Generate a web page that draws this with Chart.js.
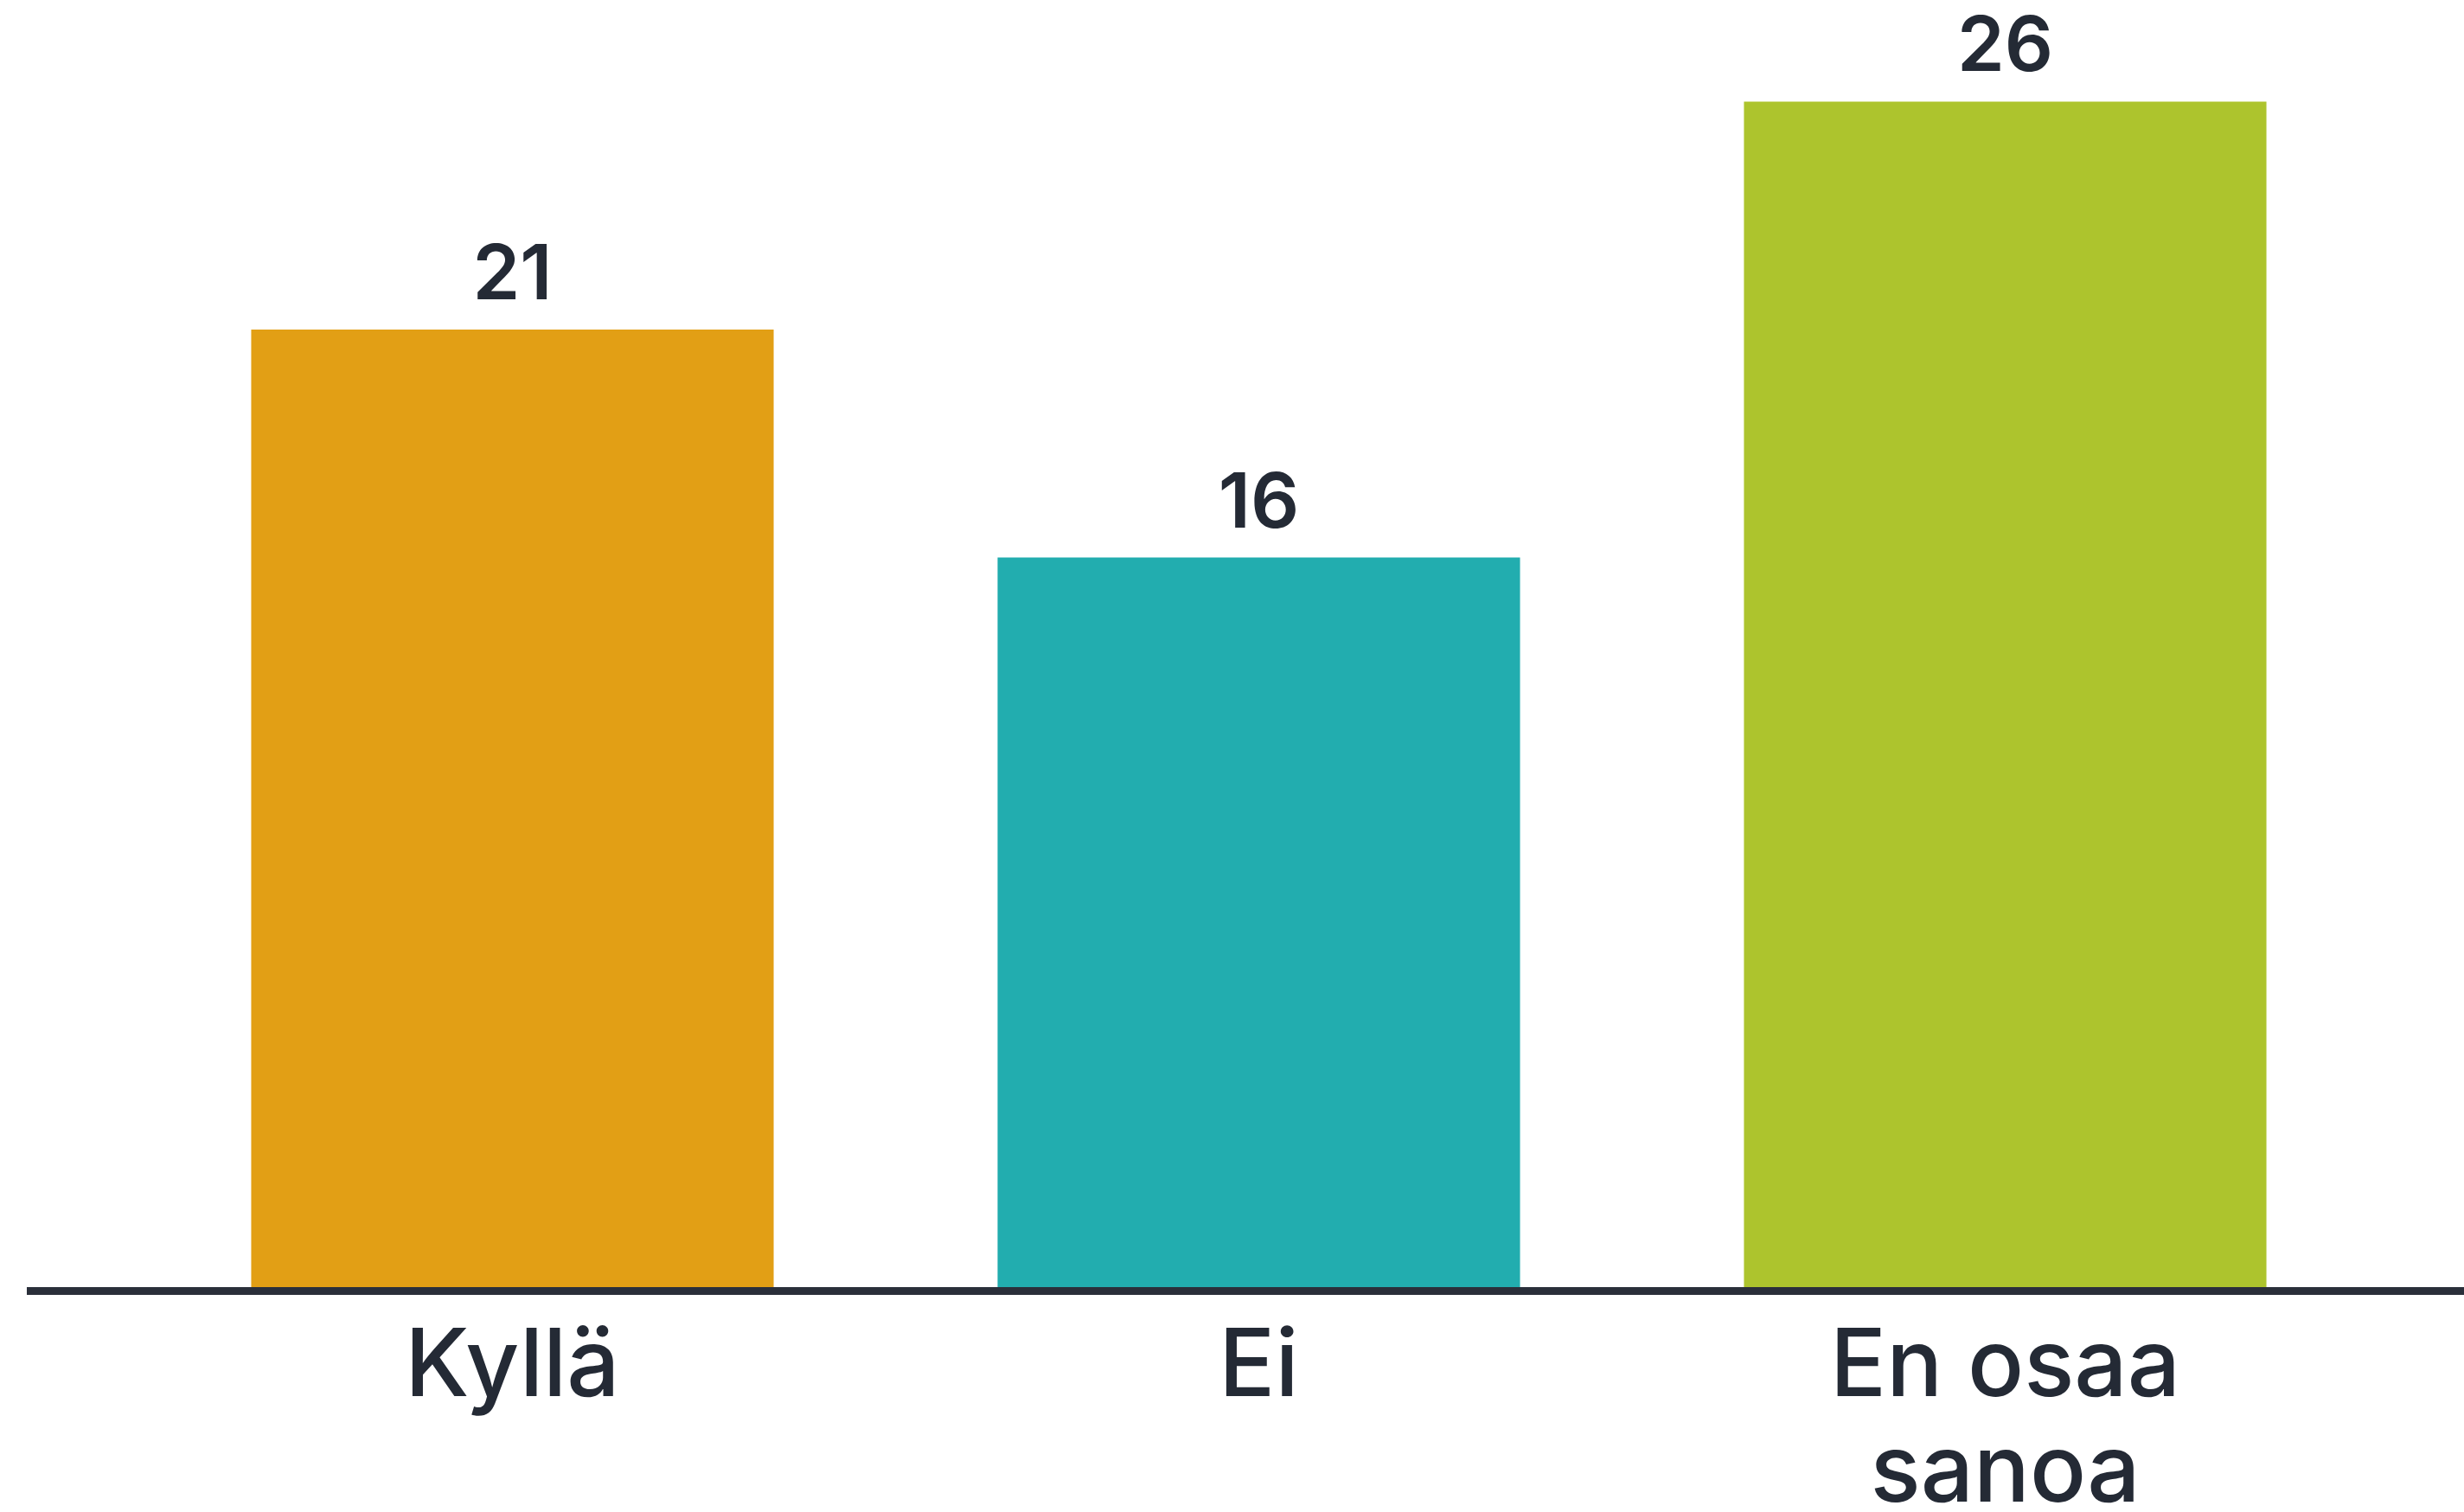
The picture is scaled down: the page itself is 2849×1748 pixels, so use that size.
<!DOCTYPE html>
<html>
<head>
<meta charset="utf-8">
<script src="https://cdn.jsdelivr.net/npm/chart.js@4"></script>
<style>
  html, body { margin: 0; padding: 0; background: #ffffff; }
  #wrap { width: 2849px; height: 1748px; position: relative; }
</style>
</head>
<body>
<div id="wrap"><canvas id="c"></canvas></div>
<script>
const categories = ['Kyllä', 'Ei', ['En osaa', 'sanoa']];
const values = [21, 16, 26];
const barColors = ['#E29F15', '#22ADAF', '#ADC42D'];
const textColor = '#242a35';
const fontFamily = 'Inter, Lato, "Noto Sans", sans-serif';

const valueLabels = {
  id: 'valueLabels',
  afterDatasetsDraw(chart) {
    const ctx = chart.ctx;
    const meta = chart.getDatasetMeta(0);
    ctx.save();
    ctx.fillStyle = textColor;
    ctx.font = '600 88px ' + fontFamily;
    ctx.textAlign = 'center';
    ctx.textBaseline = 'alphabetic';
    meta.data.forEach((bar, i) => {
      ctx.fillText(String(values[i]), bar.x, bar.y - 35);
    });
    ctx.restore();
  }
};

const baseLine = {
  id: 'baseLine',
  afterDatasetsDraw(chart) {
    const ctx = chart.ctx;
    const y = chart.scales.y.getPixelForValue(0);
    ctx.save();
    ctx.strokeStyle = '#2a2f3a';
    ctx.lineWidth = 9;
    ctx.beginPath();
    ctx.moveTo(31, y + 4.5);
    ctx.lineTo(chart.width, y + 4.5);
    ctx.stroke();
    ctx.restore();
  }
};

new Chart(document.getElementById('c'), {
  type: 'bar',
  data: {
    labels: categories,
    datasets: [{
      data: values,
      backgroundColor: barColors,
      borderWidth: 0,
      categoryPercentage: 0.7,
      barPercentage: 1.0
    }]
  },
  options: {
    responsive: true,
    maintainAspectRatio: false,
    animation: false,
    devicePixelRatio: 1,
    layout: { padding: { left: 161, right: 99, top: 12, bottom: -42 } },
    plugins: { legend: { display: false }, tooltip: { enabled: false } },
    scales: {
      y: { display: false, min: 0, max: 28 },
      x: {
        grid: { display: false },
        border: { display: false },
        ticks: {
          color: textColor,
          padding: 25,
          maxRotation: 0,
          autoSkip: false,
          font: { family: fontFamily, size: 108, weight: '500', lineHeight: 1.13 }
        }
      }
    }
  },
  plugins: [valueLabels, baseLine]
});
</script>
</body>
</html>
